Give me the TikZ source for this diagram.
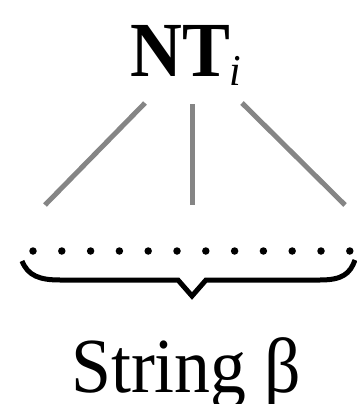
\documentclass[tikz,border=0pt]{standalone}
\usepackage{fontspec}
\setmainfont{Liberation Serif}
\begin{document}
\begin{tikzpicture}[x=1pt,y=-1pt,
  branch/.style={draw=black!48,line width=5pt},
  dotmark/.style={fill=black,circle,inner sep=0pt,minimum size=7.5pt},
  bigtext/.style={inner sep=0pt,font=\fontsize{78}{80}\selectfont}]
\useasboundingbox (0,0) rectangle (356,404);
\node[bigtext,anchor=base west] (nt) at (130,77) {\scalebox{0.92}[1]{\textbf{NT}}};
\node[inner sep=0pt,anchor=base west,font=\fontsize{44}{46}\selectfont\itshape] (sub) at (229,85) {\scalebox{0.95}[1]{i}};
\node[bigtext,anchor=base west] (str) at (71,392) {\scalebox{0.92}[1]{String β}};
\coordinate (ls) at (145,103); \coordinate (le) at (45,205);
\coordinate (ms) at (192,104); \coordinate (me) at (192,205);
\coordinate (rs) at (242,103); \coordinate (re) at (345,205);
\draw[branch] (ls) -- (le);
\draw[branch] (ms) -- (me);
\draw[branch] (rs) -- (re);
\foreach \i in {0,...,11} { \node[dotmark] (d\i) at ({33+\i*28.8},251) {}; }
\coordinate (bl) at (22,261); \coordinate (bt) at (192,296); \coordinate (br) at (355,260);
\draw[line width=5pt,line join=miter] (bl) .. controls (28,276) and (40,280) .. (60,280) -- (178,280) -- (bt) -- (206,280) -- (320,280) .. controls (342,280) and (350,274) .. (br);
\end{tikzpicture}
\end{document}
